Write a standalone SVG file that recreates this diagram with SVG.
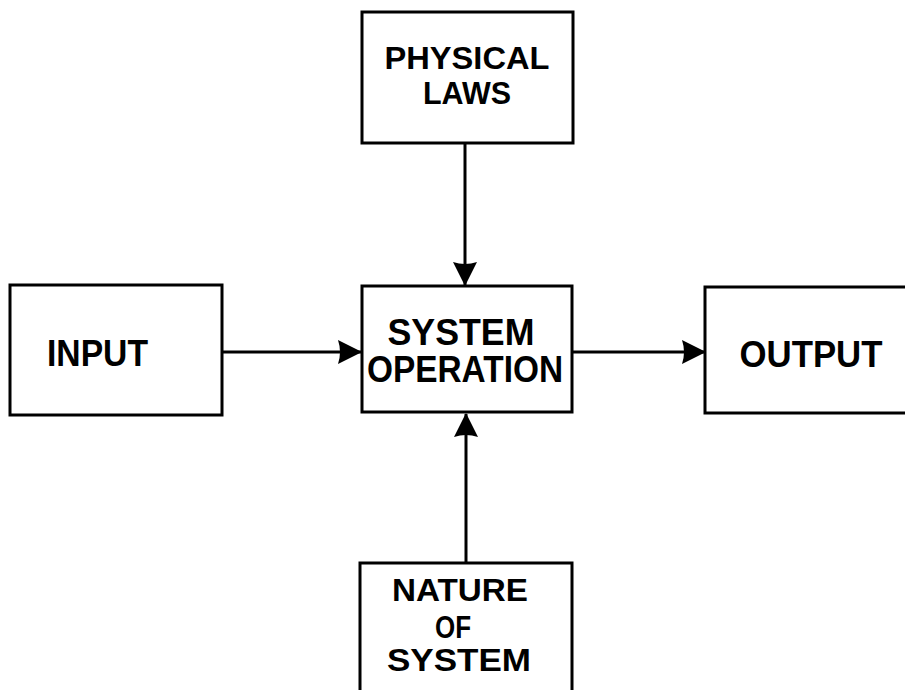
<svg xmlns="http://www.w3.org/2000/svg" width="905" height="690" viewBox="0 0 905 690">
<style>
.box{fill:#fff;stroke:#000;stroke-width:3}
.lbl{font-family:"Liberation Sans",Arial,sans-serif;font-weight:bold;font-size:36px;fill:#000;text-anchor:middle}
.tight{font-size:32px}
.con{stroke:#000;stroke-width:3;fill:none}
</style>
<defs>
<marker id="ah" viewBox="0 0 24 26" refX="23" refY="13" markerWidth="24" markerHeight="26" markerUnits="userSpaceOnUse" orient="auto">
<path d="M0,1 L24,13 L0,25 Q4,13 0,1 Z" fill="#000"/>
</marker>
</defs>
<rect width="905" height="690" fill="#fff"/>
<g id="connectors">
<line class="con" x1="465" y1="143" x2="465" y2="285" marker-end="url(#ah)"/>
<line class="con" x1="222" y1="352" x2="361" y2="352" marker-end="url(#ah)"/>
<line class="con" x1="573" y1="352" x2="705" y2="352" marker-end="url(#ah)"/>
<line class="con" x1="466" y1="563" x2="466" y2="414" marker-end="url(#ah)"/>
</g>
<g id="physical-laws">
<rect class="box" x="362" y="12" width="211" height="131"/>
<text class="lbl tight" x="467" y="69" textLength="165" lengthAdjust="spacingAndGlyphs">PHYSICAL</text>
<text class="lbl tight" x="467" y="104" textLength="88" lengthAdjust="spacingAndGlyphs">LAWS</text>
</g>
<g id="input">
<rect class="box" x="10" y="285" width="212" height="130"/>
<text class="lbl" x="97.5" y="366" textLength="101" lengthAdjust="spacingAndGlyphs">INPUT</text>
</g>
<g id="system-operation">
<rect class="box" x="362" y="286" width="210" height="126"/>
<text class="lbl" x="461" y="345" textLength="147" lengthAdjust="spacingAndGlyphs">SYSTEM</text>
<text class="lbl" x="465" y="382" textLength="196" lengthAdjust="spacingAndGlyphs">OPERATION</text>
</g>
<g id="output">
<rect class="box" x="705" y="287" width="215" height="126"/>
<text class="lbl" x="811" y="367" textLength="143" lengthAdjust="spacingAndGlyphs">OUTPUT</text>
</g>
<g id="nature-of-system">
<rect class="box" x="360" y="563" width="212" height="140"/>
<text class="lbl tight" x="460" y="601" textLength="136" lengthAdjust="spacingAndGlyphs">NATURE</text>
<text class="lbl tight" x="453" y="638" textLength="36" lengthAdjust="spacingAndGlyphs">OF</text>
<text class="lbl tight" x="459" y="671" textLength="144" lengthAdjust="spacingAndGlyphs">SYSTEM</text>
</g>
</svg>
